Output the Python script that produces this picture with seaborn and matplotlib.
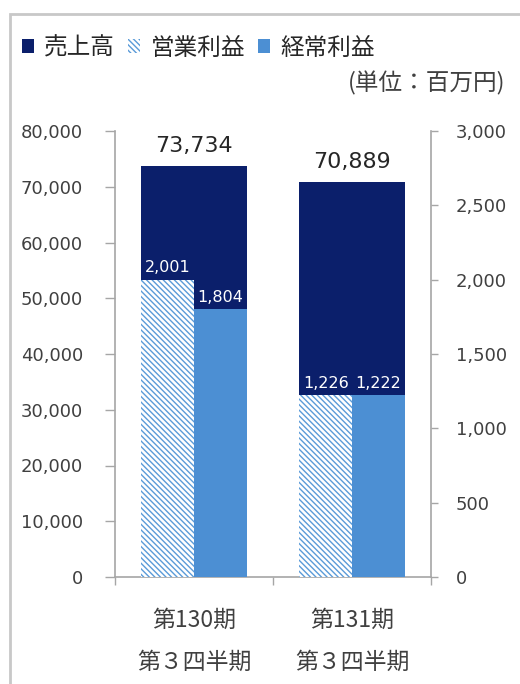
import matplotlib
matplotlib.use("Agg")
import matplotlib.pyplot as plt
import seaborn as sns
import pandas as pd
from matplotlib.patches import Patch, Rectangle
from matplotlib.ticker import FuncFormatter, FixedLocator

# ---- data ----
periods = ['第130期\n第３四半期', '第131期\n第３四半期']
sales = [73734, 70889]
operating_profit = [2001, 1226]
ordinary_profit = [1804, 1222]
series_names = ['売上高', '営業利益', '経常利益']
left_ticks = [0, 10000, 20000, 30000, 40000, 50000, 60000, 70000, 80000]
right_ticks = [0, 500, 1000, 1500, 2000, 2500, 3000]
unit_label = '(単位：百万円)'

NAVY = '#0B1F6B'
LBLUE = '#4C8FD3'
HATCH = '#5A9BD8'
GRAY = '#A6A6A6'
TXT = '#404040'
HATCH_PAT = '\\' * 6

sns.set_style('white')
plt.rcParams['font.family'] = ['Noto Sans CJK JP', 'DejaVu Sans']
plt.rcParams['hatch.linewidth'] = 1.0

fig = plt.figure(figsize=(5.2, 6.84), dpi=100)
ax = fig.add_axes([115/520, 1 - 577/684, (431-115)/520, (577-131)/684])

sales_df = pd.DataFrame({'period': periods, 'value': sales})
sns.barplot(data=sales_df, x='period', y='value', color=NAVY, saturation=1,
            width=0.665, ax=ax, zorder=2)
ax.set_ylim(0, 80000)
ax.set_xlim(-0.5, 1.5)

ax2 = ax.twinx()
prof_df = pd.DataFrame({
    'period': periods * 2,
    'kind': [series_names[1]] * len(periods) + [series_names[2]] * len(periods),
    'value': operating_profit + ordinary_profit,
})
sns.barplot(data=prof_df, x='period', y='value', hue='kind',
            palette=['white', LBLUE], saturation=1, width=0.665, gap=0,
            dodge=True, ax=ax2, legend=False)
ax2.set_ylim(0, 3000)
ax2.set_xlim(-0.5, 1.5)

for p in ax2.containers[0]:
    p.set_facecolor('white')
    p.set_edgecolor(HATCH)
    p.set_hatch(HATCH_PAT)
    p.set_linewidth(0)
for p in ax2.containers[1]:
    p.set_linewidth(0)
for p in ax.containers[0]:
    p.set_linewidth(0)

# value labels
for i, v in enumerate(sales):
    ax.annotate(f'{v:,}', (i, v), xytext=(0, 7), textcoords='offset points',
                ha='center', va='bottom', fontsize=16, color='#262626',
                family='DejaVu Sans')
for cont, vals in zip(ax2.containers, [operating_profit, ordinary_profit]):
    for p, v in zip(cont, vals):
        ax2.annotate(f'{v:,}', (p.get_x() + p.get_width()/2, v), xytext=(0, 3),
                     textcoords='offset points', ha='center', va='bottom',
                     fontsize=11.5, color='white', family='DejaVu Sans')

# axes styling
for a in (ax, ax2):
    a.set_xlabel('')
    a.set_ylabel('')
    for s in a.spines.values():
        s.set_color(GRAY)
        s.set_linewidth(1.2)
    a.spines['top'].set_visible(False)
ax.spines['right'].set_visible(False)
ax2.spines['left'].set_visible(False)
ax2.spines['bottom'].set_visible(False)

ax.yaxis.set_major_locator(FixedLocator(left_ticks))
ax.yaxis.set_major_formatter(FuncFormatter(lambda v, p: f'{int(v):,}'))
ax.tick_params(axis='y', direction='out', length=7, width=1, color=GRAY,
               pad=16, labelsize=13, labelcolor=TXT, left=True)
ax2.yaxis.set_major_locator(FixedLocator(right_ticks))
ax2.yaxis.set_major_formatter(FuncFormatter(lambda v, p: f'{int(v):,}'))
ax2.tick_params(axis='y', direction='out', length=5, width=1, color=GRAY,
                pad=13, labelsize=13, labelcolor=TXT, right=True)
for lbl in ax.get_yticklabels() + ax2.get_yticklabels():
    lbl.set_family('DejaVu Sans')

ax.set_xticks([-0.5, 0.5, 1.5], minor=True)
ax.tick_params(axis='x', which='minor', direction='out', length=6, width=1,
               color=GRAY, bottom=True)
ax.tick_params(axis='x', which='major', length=0, pad=23, labelsize=16.5,
               labelcolor=TXT)
for lbl in ax.get_xticklabels():
    lbl.set_linespacing(2.05)

# legend
handles = [Patch(facecolor=NAVY, edgecolor='none'),
           Patch(facecolor='white', edgecolor=HATCH, hatch=HATCH_PAT, linewidth=0),
           Patch(facecolor=LBLUE, edgecolor='none')]
fig.legend(handles, series_names, loc='center left',
           bbox_to_anchor=(22/520, 1 - 48/684), ncol=3, frameon=False,
           fontsize=17, handlelength=0.5, handleheight=0.5,
           handletextpad=0.45, columnspacing=0.55, borderaxespad=0,
           borderpad=0, labelcolor='#262626')

fig.text(505/520, 1 - 83/684, unit_label, ha='right', va='center',
         fontsize=17, color=TXT)

# outer frame
fig.patches.append(Rectangle((10/520, -0.1), 1.2, 1 - 14/684 + 0.1,
                             transform=fig.transFigure, fill=False,
                             edgecolor='#C8C8C8', linewidth=2))

fig.savefig('out.png', dpi=100)
